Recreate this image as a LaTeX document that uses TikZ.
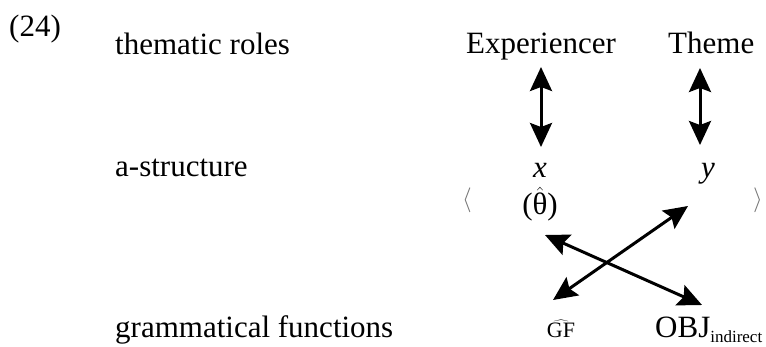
\documentclass[tikz,border=0pt]{standalone}
\usepackage{fontspec}
\setmainfont{Liberation Serif}
\usetikzlibrary{arrows.meta}
\tikzset{
  lbl/.style={anchor=base west, inner sep=0pt, font=\fontsize{31}{31}\selectfont},
  lblc/.style={anchor=base, inner sep=0pt, font=\fontsize{31}{31}\selectfont},
  brk/.style={inner sep=0pt, text=black!55, font=\fontsize{34}{34}\selectfont},
  dbl/.style={line width=3pt, {Stealth[length=24pt,width=22pt,inset=4pt]}-{Stealth[length=24pt,width=22pt,inset=4pt]}}
}
\begin{document}
\begin{tikzpicture}[x=1pt,y=-1pt]
\useasboundingbox (0,0) rectangle (766,347);
% labels
\node[lbl] (num) at (9,37) {(24)};
\node[lbl] (tr) at (115,55) {thematic roles};
\node[lbl] (as) at (115,177) {a-structure};
\node[lbl] (gf) at (115,338) {grammatical functions};
% thematic roles
\node[lblc] (exp) at (541,54) {Experiencer};
\node[lbl] (thm) at (668,54) {Theme};
% a-structure
\node[lblc] (xv) at (540,178) {\itshape x};
\node[lblc] (yv) at (708,178) {\itshape y};
\node[lblc] (th) at (540,215) {($\hat{\mbox{θ}}$)};
\node[brk] (lb) at (467,200) {$\langle$};
\node[brk] (rb) at (758,200) {$\rangle$};
% grammatical functions
\node[lblc, font=\fontsize{22}{22}\selectfont] (ggf) at (561,338) {$\widehat{\mbox{GF}}$};
\node[lbl] (obj) at (655,338) {OBJ\raisebox{-5pt}{\fontsize{17}{17}\selectfont indirect}};
% arrow end points
\coordinate (e1) at (541,67);
\coordinate (e2) at (541,147);
\coordinate (t1) at (700,68);
\coordinate (t2) at (700,145);
\coordinate (a1) at (545,235);
\coordinate (a2) at (702,305);
\coordinate (b1) at (553,300);
\coordinate (b2) at (688,206);
\draw[dbl] (e1) -- (e2);
\draw[dbl] (t1) -- (t2);
\draw[dbl] (a1) -- (a2);
\draw[dbl] (b1) -- (b2);
\end{tikzpicture}
\end{document}
